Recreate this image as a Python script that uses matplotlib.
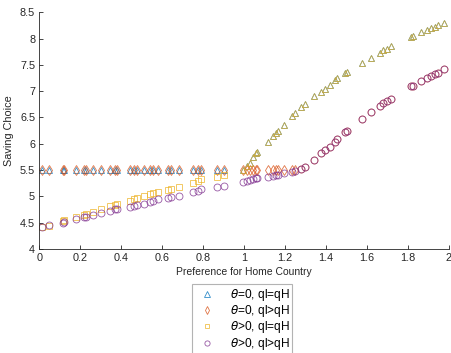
import numpy as np
import matplotlib
matplotlib.use('Agg')
import matplotlib.pyplot as plt

plt.rcParams['font.family'] = ['Liberation Sans', 'DejaVu Sans']
plt.rcParams['mathtext.fontset'] = 'dejavusans'

# preference for home country (same grid for every series)
pref = [0.015, 0.047, 0.117, 0.122, 0.178, 0.22, 0.23, 0.26, 0.30, 0.345,
        0.37, 0.38, 0.443, 0.464, 0.475, 0.51, 0.54, 0.556, 0.58, 0.63,
        0.643, 0.683, 0.749, 0.776, 0.792, 0.866, 0.90,
        0.995, 1.015, 1.03, 1.044, 1.058, 1.064, 1.115, 1.142, 1.155,
        1.167, 1.194, 1.232, 1.248, 1.28, 1.297, 1.342, 1.375, 1.394,
        1.419, 1.443, 1.455, 1.492, 1.505, 1.578, 1.622, 1.663, 1.68,
        1.70, 1.717, 1.817, 1.825, 1.866, 1.894, 1.915, 1.93, 1.947, 1.975]

# upper branch (ql=qH) and lower branch (ql>qH), x >= 0.995
upper = [5.50, 5.58, 5.63, 5.75, 5.82, 5.85, 6.04, 6.15, 6.20, 6.24, 6.36,
         6.52, 6.58, 6.69, 6.75, 6.90, 6.99, 7.05, 7.12, 7.21, 7.25, 7.34,
         7.37, 7.54, 7.64, 7.73, 7.78, 7.81, 7.86, 8.03, 8.05, 8.12, 8.16,
         8.20, 8.23, 8.25, 8.29]
lower = [5.28, 5.30, 5.31, 5.33, 5.34, 5.35, 5.37, 5.39, 5.40, 5.41, 5.44,
         5.46, 5.48, 5.52, 5.55, 5.70, 5.82, 5.88, 5.94, 6.04, 6.09, 6.22,
         6.25, 6.47, 6.60, 6.72, 6.78, 6.82, 6.85, 7.09, 7.10, 7.20, 7.25,
         7.28, 7.32, 7.35, 7.42]

# theta>0 values for x < 1
sq_low = [4.41, 4.44, 4.53, 4.55, 4.60, 4.65, 4.67, 4.71, 4.76, 4.81, 4.84,
          4.86, 4.92, 4.94, 4.96, 5.00, 5.04, 5.06, 5.09, 5.12, 5.14, 5.18,
          5.26, 5.29, 5.32, 5.37, 5.41]
ci_low = [4.42, 4.45, 4.50, 4.52, 4.56, 4.60, 4.61, 4.64, 4.68, 4.72, 4.75,
          4.76, 4.80, 4.82, 4.83, 4.86, 4.90, 4.92, 4.94, 4.97, 4.99, 5.01,
          5.08, 5.11, 5.13, 5.17, 5.20]

x = np.array(pref)
n0 = len(sq_low)
theta0_eq = np.r_[np.full(n0, 5.5), upper]
theta0_gt = np.r_[np.full(n0, 5.5), np.where(np.array(lower) < 5.5, 5.5, lower)]
thetap_eq = np.r_[sq_low, upper]
thetap_gt = np.r_[ci_low, lower]

labels = [r'$\theta$=0, ql=qH', r'$\theta$=0, ql>qH',
          r'$\theta$>0, ql=qH', r'$\theta$>0, ql>qH']
colors = ['#0072BD', '#D95319', '#EDB120', '#7E2F8E']

fig = plt.figure(figsize=(4.52, 3.53), dpi=100)
ax = fig.add_axes([0.087, 0.295, 0.906, 0.67])

ms = 5
lw = 0.6
kw = dict(linestyle='none', markerfacecolor='none', markersize=ms,
          markeredgewidth=lw, alpha=0.8)

h1, = ax.plot(x, theta0_eq, marker='^', color=colors[0], label=labels[0], **kw)

flat = theta0_gt <= 5.5
h2, = ax.plot(x[flat], theta0_gt[flat], marker='d', color=colors[1], label=labels[1], **kw)
ax.plot(x[~flat], theta0_gt[~flat], marker='o', color=colors[1], **kw)

left = x < 0.99
h3, = ax.plot(x[left], thetap_eq[left], marker='s', color=colors[2], label=labels[2],
              **dict(kw, markersize=ms - 0.8))
ax.plot(x[~left], thetap_eq[~left], marker='^', color=colors[2], **kw)

h4, = ax.plot(x, thetap_gt, marker='o', color=colors[3], label=labels[3], **kw)

ax.set_xlim(0, 2)
ax.set_ylim(4, 8.5)
xt = [0, 0.2, 0.4, 0.6, 0.8, 1, 1.2, 1.4, 1.6, 1.8, 2]
yt = [4, 4.5, 5, 5.5, 6, 6.5, 7, 7.5, 8, 8.5]
ax.set_xticks(xt)
ax.set_xticklabels([f'{v:g}' for v in xt])
ax.set_yticks(yt)
ax.set_yticklabels([f'{v:g}' for v in yt])
ax.tick_params(direction='in', length=3, width=0.6, labelsize=7.8,
               colors='#262626', pad=3)
for s in ['top', 'right']:
    ax.spines[s].set_visible(False)
for s in ['left', 'bottom']:
    ax.spines[s].set_color('#262626')
    ax.spines[s].set_linewidth(0.6)

ax.set_xlabel('Preference for Home Country', fontsize=7.5, color='#262626', labelpad=3)
ax.set_ylabel('Saving Choice', fontsize=7.8, color='#262626', labelpad=4)

leg = fig.legend(handles=[h1, h2, h3, h4], loc='upper left',
                 bbox_to_anchor=(192 / 452, 1 - 284 / 353), fontsize=8.6,
                 frameon=True, fancybox=False, edgecolor='#a0a0a0',
                 borderpad=0.25, labelspacing=0.02, handletextpad=0.9,
                 handlelength=2.0, borderaxespad=0, markerscale=0.75)
leg.get_frame().set_linewidth(0.8)

fig.savefig('out.png', dpi=100)
